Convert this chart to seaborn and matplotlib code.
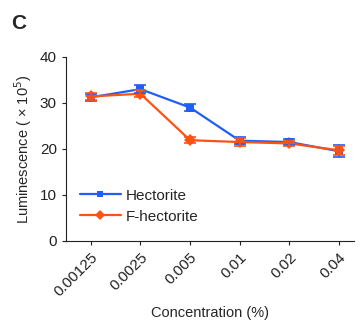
import seaborn as sns
import matplotlib.pyplot as plt
import pandas as pd

concentrations = ['0.00125', '0.0025', '0.005', '0.01', '0.02', '0.04']
hectorite = [31.2, 33.0, 29.0, 21.8, 21.5, 19.5]
hectorite_err = [0.8, 0.8, 0.8, 0.7, 0.6, 1.3]
f_hectorite = [31.4, 32.0, 21.9, 21.5, 21.2, 19.7]
f_hectorite_err = [0.8, 0.7, 0.6, 0.9, 0.6, 1.0]

blue = '#1f5ff5'
orange = '#ff5212'

sns.set_style('ticks')
plt.rcParams['font.family'] = ['Liberation Sans', 'DejaVu Sans']

data = pd.DataFrame({
    'pos': list(range(len(concentrations))) * 2,
    'value': hectorite + f_hectorite,
    'err': hectorite_err + f_hectorite_err,
    'group': ['Hectorite'] * len(concentrations) + ['F-hectorite'] * len(concentrations),
})

fig = plt.figure(figsize=(3.6, 3.27), dpi=100)
ax = fig.add_axes([0.183, 0.263, 0.80, 0.563])

sns.lineplot(data=data, x='pos', y='value', hue='group', style='group',
             markers={'Hectorite': 's', 'F-hectorite': 'D'}, dashes=False,
             palette={'Hectorite': blue, 'F-hectorite': orange},
             markersize=6, markeredgewidth=0, linewidth=1.6, ax=ax)

for name, color in [('Hectorite', blue), ('F-hectorite', orange)]:
    sub = data[data['group'] == name]
    ax.errorbar(sub['pos'], sub['value'], yerr=sub['err'], fmt='none',
                ecolor=color, elinewidth=1.2, capsize=4, capthick=1.2, zorder=3)

ax.set_ylim(0, 40)
ax.set_yticks([0, 10, 20, 30, 40])
ax.set_xlim(-0.5, 5.3)
ax.set_xticks(range(len(concentrations)))
ax.set_xticklabels(concentrations, rotation=45, ha='right', rotation_mode='anchor')
ax.tick_params(labelsize=11, length=3, width=0.8, colors='#222222')
ax.set_xlabel('Concentration (%)', fontsize=10.5, labelpad=5)
ax.set_ylabel('Luminescence ( × 10$^5$)', fontsize=10.5)
for s in ['left', 'bottom']:
    ax.spines[s].set_linewidth(0.8)
    ax.spines[s].set_color('#222222')
sns.despine(ax=ax)

ax.legend(title=None, frameon=False, loc='lower left', bbox_to_anchor=(0.0, 0.02),
          fontsize=11, handlelength=2.7, handletextpad=0.3, labelspacing=0.45,
          markerscale=0.8)

fig.text(0.03, 0.91, 'C', fontsize=15, fontweight='bold')

fig.savefig('out.png', dpi=100)
